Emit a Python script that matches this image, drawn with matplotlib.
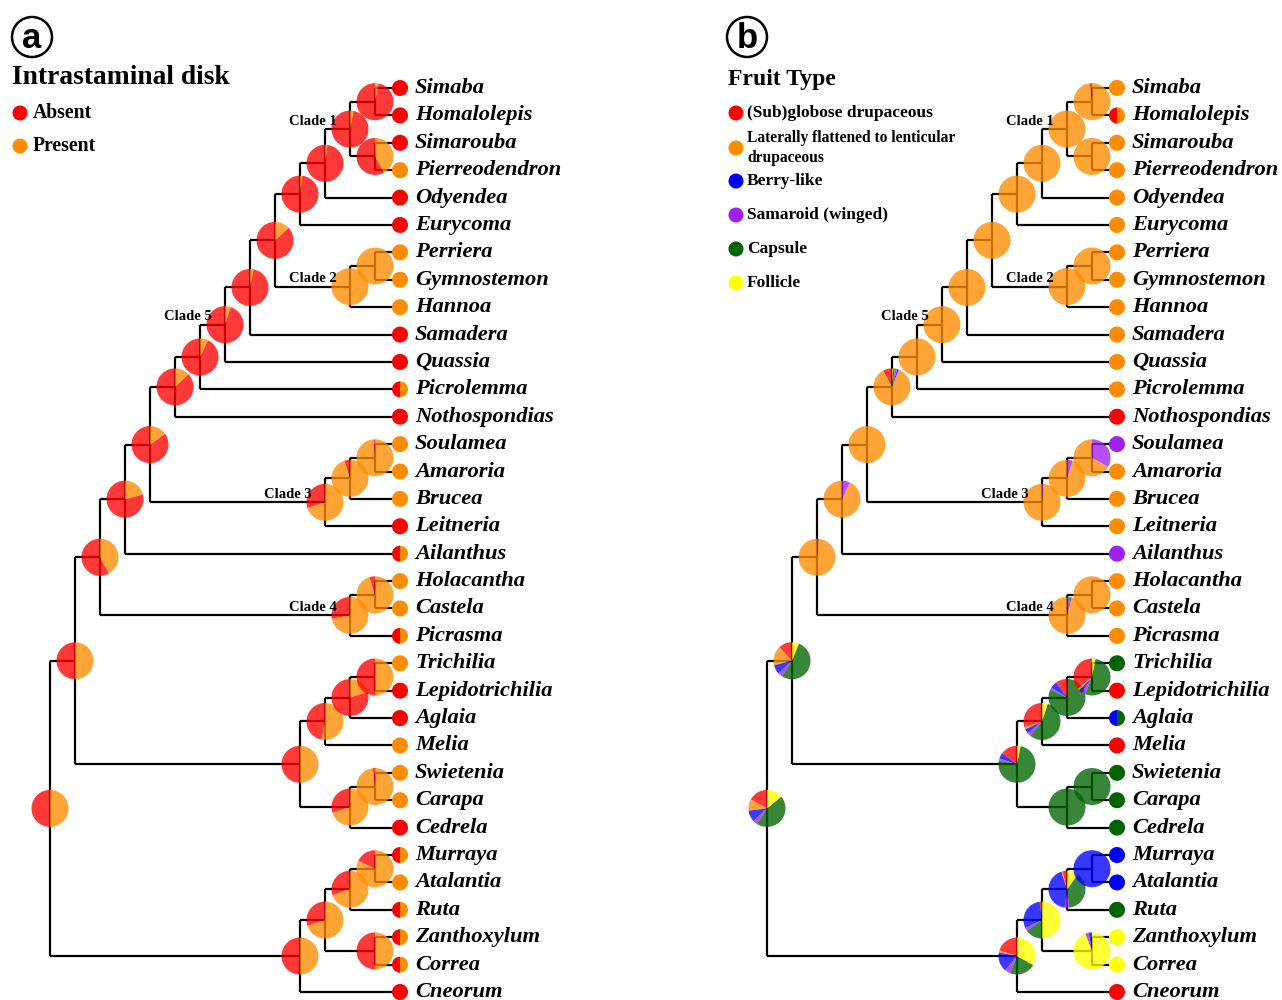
import matplotlib
matplotlib.use("Agg")
import matplotlib.pyplot as plt
from matplotlib.patches import Wedge, Circle

# ---------------- data ----------------
# tree topology (cladogram)
C1 = (("Simaba", "Homalolepis"), ("Simarouba", "Pierreodendron"))
S9 = (C1, "Odyendea")
S8 = (S9, "Eurycoma")
C2 = (("Perriera", "Gymnostemon"), "Hannoa")
S7 = (S8, C2)
S6 = (S7, "Samadera")
C5 = (S6, "Quassia")
S4 = (C5, "Picrolemma")
S3 = (S4, "Nothospondias")
C3 = ((("Soulamea", "Amaroria"), "Brucea"), "Leitneria")
S2 = (S3, C3)
S1 = (S2, "Ailanthus")
C4 = (("Holacantha", "Castela"), "Picrasma")
SIM = (S1, C4)
MEL = (((("Trichilia", "Lepidotrichilia"), "Aglaia"), "Melia"),
       (("Swietenia", "Carapa"), "Cedrela"))
RUT = (((("Murraya", "Atalantia"), "Ruta"), ("Zanthoxylum", "Correa")), "Cneorum")
TREE = ((SIM, MEL), RUT)

# clade labels (node given by first and last tip of its span)
CLADE_NAMES = ["Clade 1", "Clade 2", "Clade 3", "Clade 4", "Clade 5"]
CLADE_SPANS = [("Simaba", "Pierreodendron"), ("Perriera", "Hannoa"),
               ("Soulamea", "Leitneria"), ("Holacantha", "Picrasma"),
               ("Simaba", "Quassia")]

# panel a: intrastaminal disk, fraction "Absent" (rest "Present")
DISK_STATES = ["Absent", "Present"]
DISK_COLORS = ["#ff0000", "#ff8c00"]
TIP_ABSENT = {
    "Simaba": 1, "Homalolepis": 1, "Simarouba": 1, "Pierreodendron": 0,
    "Odyendea": 1, "Eurycoma": 1, "Perriera": 0, "Gymnostemon": 0,
    "Hannoa": 0, "Samadera": 1, "Quassia": 1, "Picrolemma": 0.5,
    "Nothospondias": 1, "Soulamea": 0, "Amaroria": 0, "Brucea": 0,
    "Leitneria": 1, "Ailanthus": 0.5, "Holacantha": 0, "Castela": 0,
    "Picrasma": 0.5, "Trichilia": 0, "Lepidotrichilia": 1, "Aglaia": 1,
    "Melia": 0, "Swietenia": 0, "Carapa": 0, "Cedrela": 1,
    "Murraya": 0.5, "Atalantia": 0, "Ruta": 0.5, "Zanthoxylum": 0.5,
    "Correa": 0.5, "Cneorum": 1,
}

NODE_SPANS = [
    ("Simaba", "Cneorum"), ("Simaba", "Cedrela"), ("Simaba", "Picrasma"),
    ("Simaba", "Ailanthus"), ("Simaba", "Leitneria"), ("Simaba", "Nothospondias"),
    ("Simaba", "Picrolemma"), ("Simaba", "Quassia"), ("Simaba", "Samadera"),
    ("Simaba", "Hannoa"), ("Simaba", "Eurycoma"), ("Simaba", "Odyendea"),
    ("Simaba", "Pierreodendron"), ("Simaba", "Homalolepis"),
    ("Simarouba", "Pierreodendron"), ("Perriera", "Hannoa"),
    ("Perriera", "Gymnostemon"), ("Soulamea", "Leitneria"),
    ("Soulamea", "Brucea"), ("Soulamea", "Amaroria"),
    ("Holacantha", "Picrasma"), ("Holacantha", "Castela"),
    ("Trichilia", "Cedrela"), ("Trichilia", "Melia"), ("Trichilia", "Aglaia"),
    ("Trichilia", "Lepidotrichilia"), ("Swietenia", "Cedrela"),
    ("Swietenia", "Carapa"), ("Murraya", "Cneorum"), ("Murraya", "Correa"),
    ("Murraya", "Ruta"), ("Murraya", "Atalantia"), ("Zanthoxylum", "Correa"),
]
NODE_ABSENT = [
    0.50, 0.50, 0.58, 0.79, 0.85, 0.87, 0.93, 0.95, 0.97, 0.87, 0.98, 0.98,
    0.97, 0.97, 0.58, 0.00, 0.00, 0.30, 0.05, 0.01, 0.28, 0.05,
    0.50, 0.47, 0.80, 0.50, 0.30, 0.02, 0.50, 0.30, 0.30, 0.18, 0.50,
]

# panel b: fruit type
FRUIT_STATES = ["(Sub)globose drupaceous",
                "Laterally flattened to lenticular\ndrupaceous",
                "Berry-like", "Samaroid (winged)", "Capsule", "Follicle"]
FRUIT_COLORS = ["#ff0000", "#ff8c00", "#0000ff", "#a020f0", "#006400", "#ffff00"]
TIP_FRUIT = {
    "Simaba": 1, "Homalolepis": (0, 1), "Simarouba": 1, "Pierreodendron": 1,
    "Odyendea": 1, "Eurycoma": 1, "Perriera": 1, "Gymnostemon": 1,
    "Hannoa": 1, "Samadera": 1, "Quassia": 1, "Picrolemma": 1,
    "Nothospondias": 0, "Soulamea": 3, "Amaroria": 1, "Brucea": 1,
    "Leitneria": 1, "Ailanthus": 3, "Holacantha": 1, "Castela": 1,
    "Picrasma": 1, "Trichilia": 4, "Lepidotrichilia": 0, "Aglaia": (2, 4),
    "Melia": 0, "Swietenia": 4, "Carapa": 4, "Cedrela": 4,
    "Murraya": 2, "Atalantia": 2, "Ruta": 4, "Zanthoxylum": 5,
    "Correa": 5, "Cneorum": 0,
}
O = [0, 1, 0, 0, 0, 0]
NODE_FRUIT = [
    [0.17, 0.10, 0.10, 0.04, 0.45, 0.14],   # root
    [0.12, 0.17, 0.08, 0.04, 0.53, 0.06],
    [0, 0.985, 0, 0.015, 0, 0],
    [0, 0.93, 0, 0.07, 0, 0],
    O,
    [0.08, 0.86, 0.015, 0.02, 0.015, 0.01],
    O, O, O, O, O, O, O,
    [0.02, 0.98, 0, 0, 0, 0],
    O, O, O,
    [0, 0.99, 0, 0.01, 0, 0],
    [0, 0.95, 0, 0.05, 0, 0],
    [0, 0.67, 0, 0.33, 0, 0],
    [0, 0.96, 0.01, 0.015, 0.015, 0],
    O,
    [0.15, 0, 0.05, 0.02, 0.75, 0.03],
    [0.30, 0.02, 0.04, 0.03, 0.56, 0.05],
    [0.10, 0, 0.06, 0.02, 0.82, 0],
    [0.36, 0.02, 0.03, 0.03, 0.53, 0.03],
    [0, 0, 0, 0, 1, 0],
    [0, 0, 0, 0, 1, 0],
    [0.20, 0.02, 0.17, 0.05, 0.23, 0.33],
    [0.02, 0, 0.30, 0.03, 0.15, 0.50],
    [0.04, 0.01, 0.43, 0.04, 0.38, 0.10],
    [0, 0, 1, 0, 0, 0],
    [0, 0, 0.03, 0.03, 0, 0.94],
]

# ---------------- layout / style ----------------
W, H = 1282, 1000
TIP_TOP, TIP_BOTTOM = H - 88, H - 992
X_STEP = 25
TIP_X = {"a": 400, "b": 1117}
NODE_R, TIP_R = 18.5, 8
LW = 1.6
SERIF = "Liberation Serif"

fig = plt.figure(figsize=(W / 100, H / 100), dpi=100)
ax = fig.add_axes([0, 0, 1, 1])
ax.set_xlim(0, W)
ax.set_ylim(0, H)
ax.axis("off")


def tips_of(node):
    if isinstance(node, str):
        return [node]
    out = []
    for c in node:
        out += tips_of(c)
    return out


TIP_ORDER = tips_of(TREE)
N = len(TIP_ORDER)
Y_STEP = (TIP_TOP - TIP_BOTTOM) / (N - 1)
TIP_Y = {t: TIP_TOP - i * Y_STEP for i, t in enumerate(TIP_ORDER)}


def height(node):
    if isinstance(node, str):
        return 0
    return 1 + max(height(c) for c in node)


def draw_pie(cx, cy, r, fracs, colors, alpha, z):
    start = 90.0
    tot = sum(fracs)
    for f, col in zip(fracs, colors):
        if f <= 0:
            continue
        ext = 360.0 * f / tot
        ax.add_patch(Wedge((cx, cy), r, start, start + ext, facecolor=col,
                           edgecolor="none", alpha=alpha, zorder=z))
        start += ext


def draw_tree(panel, node_fracs, tip_fracs, colors):
    tip_x = TIP_X[panel]
    nodes = {}

    def rec(node):
        if isinstance(node, str):
            return tip_x, TIP_Y[node]
        x = tip_x - X_STEP * height(node)
        kids = [rec(c) for c in node]
        ys = [k[1] for k in kids]
        y = sum(ys) / len(ys)
        ax.plot([x, x], [min(ys), max(ys)], color="black", lw=LW,
                solid_capstyle="butt", zorder=1)
        for kx, ky in kids:
            ax.plot([x, kx], [ky, ky], color="black", lw=LW,
                    solid_capstyle="butt", zorder=1)
        t = tips_of(node)
        nodes[(t[0], t[-1])] = (x, y)
        return x, y

    rec(TREE)
    for span, fr in zip(NODE_SPANS, node_fracs):
        x, y = nodes[span]
        draw_pie(x, y, NODE_R, fr, colors, 0.78, 3)
    for t in TIP_ORDER:
        draw_pie(tip_x, TIP_Y[t], TIP_R, tip_fracs[t], colors, 1.0, 4)
        ax.text(tip_x + 15, TIP_Y[t], t, fontsize=16.2, family=SERIF,
                fontweight="bold", style="italic", va="center", ha="left",
                zorder=5)
    for name, span in zip(CLADE_NAMES, CLADE_SPANS):
        x, y = nodes[span]
        ax.text(x - 13, y + 8, name, fontsize=10.5, family=SERIF,
                fontweight="bold", ha="right", va="center", zorder=5)


# panel a
tipA = {t: [v, 1 - v] for t, v in TIP_ABSENT.items()}
nodeA = [[v, 1 - v] for v in NODE_ABSENT]
draw_tree("a", nodeA, tipA, DISK_COLORS)

# panel b
tipB = {}
for t, v in TIP_FRUIT.items():
    fr = [0] * len(FRUIT_COLORS)
    for k in (v if isinstance(v, tuple) else (v,)):
        fr[k] = 1
    tipB[t] = fr
draw_tree("b", NODE_FRUIT, tipB, FRUIT_COLORS)

# panel letters
for letter, cx in (("a", 32), ("b", 747)):
    ax.add_patch(Circle((cx, H - 37), 20, facecolor="white", edgecolor="black",
                        lw=1.8, zorder=5))
    ax.text(cx, H - 38, letter, fontsize=25, family="Liberation Sans",
            fontweight="bold", ha="center", va="center", zorder=6)

# legend a
ax.text(12, H - 77, "Intrastaminal disk", fontsize=19.8, family=SERIF,
        fontweight="bold", ha="left", va="center")
for i, (lab, col) in enumerate(zip(DISK_STATES, DISK_COLORS)):
    y = H - 113 - i * 33
    ax.add_patch(Circle((20, y), 7.5, facecolor=col, edgecolor="none"))
    ax.text(33, y, lab, fontsize=14.2, family=SERIF, fontweight="bold",
            ha="left", va="center")

# legend b
ax.text(728, H - 79, "Fruit Type", fontsize=17, family=SERIF,
        fontweight="bold", ha="left", va="center")
LEG_B_Y = [113, 148, 181, 215, 249, 283]
for lab, col, yy in zip(FRUIT_STATES, FRUIT_COLORS, LEG_B_Y):
    y = H - yy
    ax.add_patch(Circle((736, y), 7.5, facecolor=col, edgecolor="none"))
    two = "\n" in lab
    ax.text(747, y, lab, fontsize=11.2 if two else 12.5, family=SERIF,
            fontweight="bold", ha="left", va="center", linespacing=1.25)

fig.savefig("out.png", dpi=100)
